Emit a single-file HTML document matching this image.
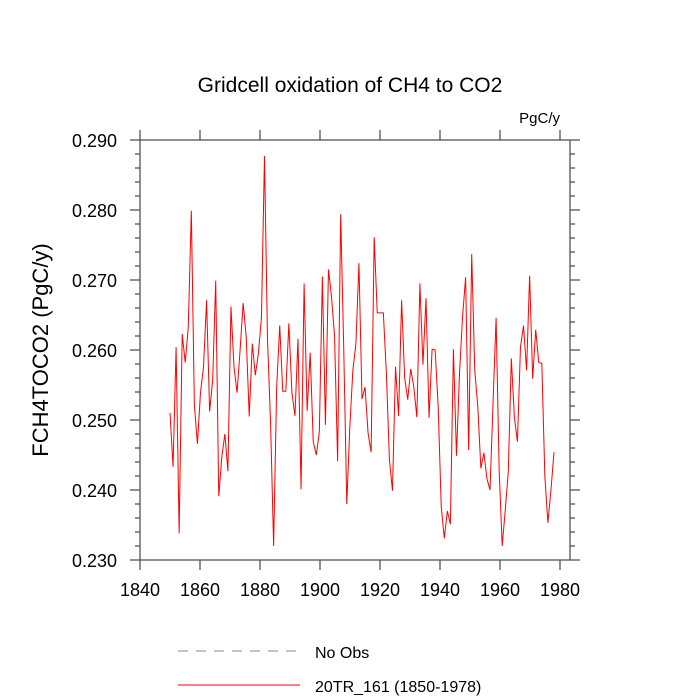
<!DOCTYPE html>
<html><head><meta charset="utf-8"><style>
body{margin:0;background:#fff;}
svg{display:block;font-family:"Liberation Sans",sans-serif;}
</style></head><body>
<svg id="chart" width="700" height="700">
<text x="350" y="92" text-anchor="middle" font-size="21">Gridcell oxidation of CH4 to CO2</text>
<text x="560" y="123" text-anchor="end" font-size="15">PgC/y</text>
<text transform="translate(48,350) rotate(-90)" text-anchor="middle" font-size="22">FCH4TOCO2  (PgC/y)</text>
<g id="axes"></g>
<polyline id="series" fill="none" stroke="#ff0000" stroke-width="1"/>
<line x1="178" y1="651" x2="300" y2="651" stroke="#888" stroke-width="1" stroke-dasharray="10,8"/>
<text x="315" y="658" font-size="16">No Obs</text>
<line x1="178" y1="685" x2="300" y2="685" stroke="#ff0000" stroke-width="1"/>
<text x="315" y="692" font-size="16">20TR_161 (1850-1978)</text>
</svg>
<script>
const startYear = 1850;
const endYear = 1978;
const values = [0.2510,0.2433,0.2604,0.2338,0.2623,0.2582,0.2633,0.2799,0.2521,0.2466,
0.2539,0.2576,0.2671,0.2512,0.2557,0.2699,0.2391,0.2447,0.2480,0.2427,
0.2662,0.2576,0.2539,0.2600,0.2667,0.2619,0.2505,0.2609,0.2564,0.2595,
0.2646,0.2877,0.2614,0.2496,0.2320,0.2547,0.2635,0.2541,0.2541,0.2638,
0.2539,0.2506,0.2616,0.2401,0.2695,0.2513,0.2596,0.2469,0.2450,0.2483,
0.2705,0.2493,0.2715,0.2676,0.2619,0.2441,0.2794,0.2604,0.2380,0.2490,
0.2571,0.2609,0.2724,0.2530,0.2547,0.2481,0.2454,0.2761,0.2653,0.2653,
0.2653,0.2567,0.2443,0.2399,0.2576,0.2506,0.2671,0.2560,0.2529,0.2573,
0.2547,0.2504,0.2695,0.2579,0.2674,0.2503,0.2601,0.2600,0.2519,0.2376,
0.2331,0.2370,0.2351,0.2601,0.2449,0.2567,0.2648,0.2704,0.2457,0.2737,
0.2571,0.2519,0.2431,0.2453,0.2416,0.2400,0.2525,0.2646,0.2429,0.2320,
0.2371,0.2426,0.2588,0.2504,0.2469,0.2604,0.2635,0.2571,0.2706,0.2559,
0.2629,0.2582,0.2581,0.2419,0.2353,0.2400,0.2454];
const xTicks = [1840,1860,1880,1900,1920,1940,1960,1980];
const yTicks = [0.230,0.240,0.250,0.260,0.270,0.280,0.290];
const L=140,R=570,T=140,B=560;
const pxPerYear = 3.0;
const xS = v => L + (v-1840)*pxPerYear;
const yS = v => B - (v-0.230)/(0.290-0.230)*(B-T);
const NS="http://www.w3.org/2000/svg";
const g=document.getElementById('axes');
function mk(tag,attrs){const e=document.createElementNS(NS,tag);for(const k in attrs)e.setAttribute(k,attrs[k]);g.appendChild(e);return e;}
const frame=mk('rect',{x:L,y:T,width:R-L,height:B-T,fill:'none',stroke:'#555','stroke-width':1.3});


xTicks.forEach(t=>{const x=xS(t);
 mk('line',{x1:x,y1:B,x2:x,y2:B+10,stroke:'#555','stroke-width':1.3});
 mk('line',{x1:x,y1:T,x2:x,y2:T-10,stroke:'#555','stroke-width':1.3});
 const e=mk('text',{x:x,y:B+36,'text-anchor':'middle','font-size':18});e.textContent=t;
 
 });
for(let i=0;i<=30;i++){const v=0.230+i*0.002;const y=yS(v);const major=i%5===0;const len=major?10:5;
 mk('line',{x1:L,y1:y,x2:L-len,y2:y,stroke:'#555','stroke-width':1.3});mk('line',{x1:R,y1:y,x2:R+len,y2:y,stroke:'#555','stroke-width':1.3});}
yTicks.forEach(t=>{const e=mk('text',{x:L-23,y:yS(t)+7,'text-anchor':'end','font-size':18});e.textContent=t.toFixed(3);
 
 });
const yearStep = (endYear-startYear)/(values.length-1);
document.getElementById('series').setAttribute('points',values.map((v,i)=>xS(startYear+i*yearStep)+','+yS(v)).join(' '));
</script>
</body></html>
